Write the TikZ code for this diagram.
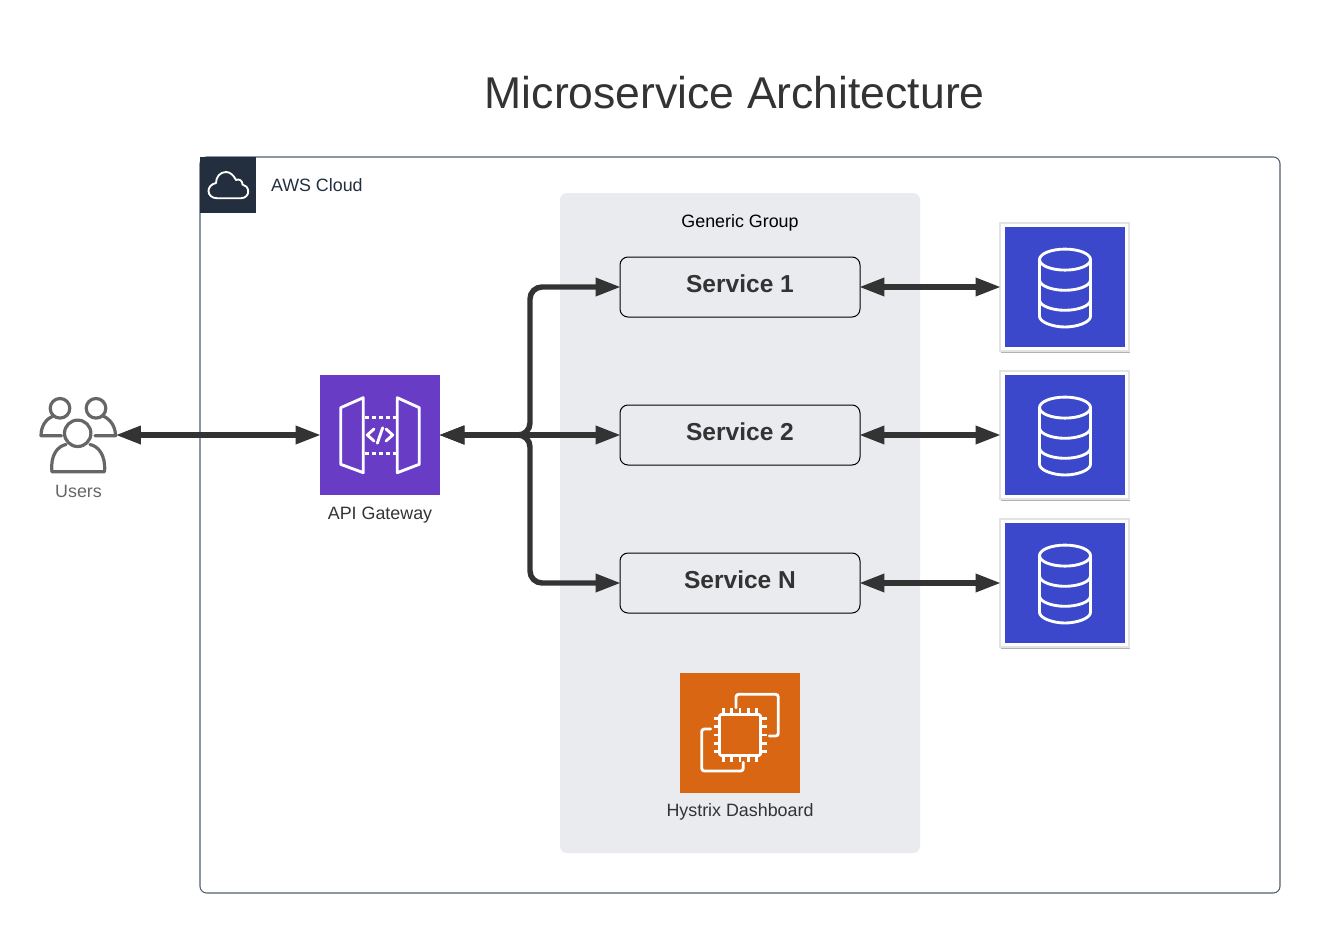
\documentclass[tikz,border=0pt]{standalone}
\usepackage{fontspec}
\setmainfont{Liberation Sans}
\usetikzlibrary{arrows.meta,shadows}
\definecolor{awsdark}{HTML}{232F3E}
\definecolor{cloudline}{HTML}{4F5F70}
\definecolor{groupfill}{HTML}{E9EBEF}
\definecolor{inkdark}{HTML}{333333}
\definecolor{gwpurple}{HTML}{693CC5}
\definecolor{dbblue}{HTML}{3B48CC}
\definecolor{ecorange}{HTML}{D86613}
\definecolor{usergray}{HTML}{666666}
\tikzset{
  base/.style={inner sep=0pt,outer sep=0pt},
  lbl/.style={base,font=\fontsize{13.4pt}{16pt}\selectfont,text=inkdark},
  iconbox/.style={base,minimum width=90pt,minimum height=90pt},
  servicebox/.style={base,draw=black,line width=0.75pt,fill=groupfill,rounded corners=6pt,minimum width=180pt,minimum height=45pt,font=\fontsize{18.4pt}{22pt}\selectfont\bfseries,text=inkdark},
  dbframe/.style={base,draw=black!11,line width=0.9pt,fill=white,minimum width=96.75pt,minimum height=96pt,drop shadow={shadow xshift=1pt,shadow yshift=-1.5pt,opacity=0.3,fill=black}},
  conn/.style={draw=inkdark,line width=4.1pt,shorten <=-0.7pt,shorten >=-0.7pt,{Triangle[length=19pt,width=13pt]}-{Triangle[length=19pt,width=13pt]}},
  icon/.style={draw=white,line width=2.15pt,line join=round,line cap=round,fill=none},
  usericon/.style={draw=usergray,line width=2.4pt,line join=round,line cap=round,fill=none},
}
\begin{document}
\begin{tikzpicture}[x=0.75pt,y=-0.75pt]
\useasboundingbox (0,0) rectangle (1322,943);
% title
\node[base,font=\fontsize{33.4pt}{40pt}\selectfont,text=inkdark] (title) at (734.8,92.5) {Microservice Architecture};
% cloud group
\node[base,draw=cloudline,line width=0.8pt,rounded corners=5pt,minimum width=810pt,minimum height=552pt] (cloud) at (740,525) {};
\node[base,fill=awsdark,minimum width=42pt,minimum height=42pt] (cloudtag) at (228,185) {};
\draw[white,line width=1.4pt,line join=round]
  (217,198.2) -- (241,198.2) .. controls (245.5,198.2) and (248.2,195) .. (248.2,191.5)
  .. controls (248.2,187.5) and (245.5,185) .. (242.5,184.5)
  .. controls (242.5,180.5) and (239,178.5) .. (236,180)
  .. controls (233.5,175) and (230,172) .. (226,172)
  .. controls (220,172) and (216,177) .. (216,183)
  .. controls (211,184) and (208.5,187.5) .. (208.5,191)
  .. controls (208.5,195) and (212,198.2) .. (217,198.2) -- cycle;
\node[lbl,anchor=west,text=awsdark] (cloudlbl) at (271,185.5) {AWS Cloud};
% generic group
\node[base,fill=groupfill,rounded corners=5pt,minimum width=270pt,minimum height=495pt] (group) at (740,523) {};
\node[lbl,text=black] (grouplbl) at (740,223) {Generic Group};
% services
\node[servicebox] (s1) at (740,287) {\raisebox{5.5pt}{Service 1}};
\node[servicebox] (s2) at (740,435) {\raisebox{5.5pt}{Service 2}};
\node[servicebox] (s3) at (740,583) {\raisebox{5.5pt}{Service N}};
% users
\node[base,minimum width=57pt,minimum height=57pt] (users) at (78.5,435) {};
\begin{scope}[usericon]
  \draw (77.7,433.3) circle [radius=13.2];
  \draw (60,408.3) circle [radius=9.8];
  \draw (96,408.3) circle [radius=9.8];
  \draw (52,471.7) .. controls (50,455) and (58,446) .. (66,444.5);
  \draw (90,444.5) .. controls (98,446) and (106,455) .. (104.5,471.7) -- (52,471.7);
  \draw (61.5,435.7) -- (41,435.7) .. controls (41,426) and (46,419) .. (53,416);
  \draw (95,435.7) -- (115.5,435.7) .. controls (115.5,426) and (110,419) .. (103,416);
\end{scope}
\node[lbl,text=usergray] (userslbl) at (78.5,491) {Users};
% API gateway
\node[iconbox,fill=gwpurple] (gw) at (380,435) {};
\begin{scope}[icon]
  \draw (340.7,407.7) -- (363.3,397.7) -- (363.3,472.7) -- (340.7,464.3) -- cycle;
  \draw (397.3,397.7) -- (419.3,407.7) -- (419.3,464.3) -- (397.3,472.7) -- cycle;
  \draw[line cap=butt,dash pattern=on 3pt off 2.2pt] (365,417.3) -- (397,417.3);
  \draw[line cap=butt,dash pattern=on 3pt off 2.2pt] (365,453.3) -- (397,453.3);
  \draw (374,429) -- (367.3,435) -- (374,441);
  \draw (386,429) -- (392.7,435) -- (386,441);
  \draw (382.7,427.7) -- (377.3,443.3);
\end{scope}
\node[lbl] (gwlbl) at (380,515.5) {API Gateway};
% databases
\foreach \n/\yy in {1/287,2/435,3/583}{
  \node[dbframe] (db\n) at (1064.5,\yy) {};
  \node[iconbox,fill=dbblue] (dbi\n) at (1065,\yy) {};
  \begin{scope}[icon,shift={(1065,\yy+0.3)}]
    \draw (0,-27.7) circle [x radius=25.5,y radius=10.5];
    \draw (-25.5,-27.7) -- (-25.5,29) .. controls (-25.5,35) and (-12,39.7) .. (0,39.7) .. controls (12,39.7) and (25.5,35) .. (25.5,29) -- (25.5,-27.7);
    \draw (-25.5,-7.5) .. controls (-25.5,-1) and (-12,3) .. (0,3) .. controls (12,3) and (25.5,-1) .. (25.5,-7.5);
    \draw (-25.5,12.5) .. controls (-25.5,19) and (-12,23) .. (0,23) .. controls (12,23) and (25.5,19) .. (25.5,12.5);
  \end{scope}
}
% Hystrix
\node[iconbox,fill=ecorange] (hx) at (740,733) {};
\begin{scope}[icon]
  \draw[rounded corners=1.5pt] (719.5,714.5) rectangle (760.5,755.5);
  \foreach \d in {-16.6,-8.3,0,8.3,16.6}{
    \draw[line cap=butt] (740+\d,708) -- (740+\d,714.5);
    \draw[line cap=butt] (740+\d,755.5) -- (740+\d,762);
    \draw[line cap=butt] (713.5,735+\d) -- (719.5,735+\d);
    \draw[line cap=butt] (760.5,735+\d) -- (766.5,735+\d);
  }
  \draw[rounded corners=2pt] (736,707.7) -- (736,694.3) -- (778.3,694.3) -- (778.3,736) -- (769.3,736);
  \draw[rounded corners=2pt] (710.7,729) -- (701.7,729) -- (701.7,771) -- (743.3,771) -- (743.3,762.3);
\end{scope}
\node[lbl] (hxlbl) at (740,811.5) {Hystrix Dashboard};
% connectors
\coordinate (hub) at (530,435);
\draw[conn] (users) -- (gw);
\draw[conn,rounded corners=9pt] (gw.east) -- (hub) -- (hub |- s1.west) -- (s1.west);
\draw[conn,rounded corners=9pt] (gw.east) -- (hub) -- (hub |- s3.west) -- (s3.west);
\draw[conn] (gw.east) -- (s2.west);
\draw[conn] (s1.east) -- (db1.west);
\draw[conn] (s2.east) -- (db2.west);
\draw[conn] (s3.east) -- (db3.west);
\end{tikzpicture}
\end{document}
